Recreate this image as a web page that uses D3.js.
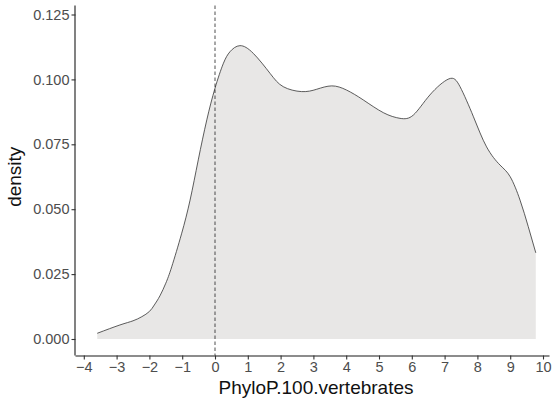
<!DOCTYPE html>
<html>
<head>
<meta charset="utf-8">
<script src="https://cdn.jsdelivr.net/npm/d3@7"></script>
<style>
body { margin: 0; background: #fff; }
text { font-family: "Liberation Sans", Arial, sans-serif; }
</style>
</head>
<body>
<script>
// density curve
var xVals = [-3.59, -2.9, -2.5, -2.23, -2.0, -1.85, -1.68, -1.5, -1.32, -1.02, -0.76, -0.51, -0.25, 0, 0.25, 0.46,
    0.76, 1.17, 1.68, 2.08, 2.64, 3.10, 3.56, 4.01, 4.52, 5.13, 5.64, 6.05, 6.55, 7.13, 7.47, 7.88,
    8.28, 8.69, 9.0, 9.30, 9.55, 9.78];
var densVals = [0.0022, 0.0054, 0.0070, 0.0086, 0.0106, 0.0131, 0.0166, 0.0215, 0.0278, 0.0405, 0.0535, 0.069,
    0.0844, 0.0966, 0.106, 0.1107, 0.113, 0.110, 0.1023, 0.0972, 0.0953, 0.0962, 0.0975, 0.0959,
    0.0921, 0.0872, 0.085, 0.0863, 0.094, 0.1002, 0.0972, 0.0856, 0.074, 0.067, 0.0625, 0.0535,
    0.0433, 0.0332];
var xTicks = [-4, -3, -2, -1, 0, 1, 2, 3, 4, 5, 6, 7, 8, 9, 10];
var yTicks = [0, 0.025, 0.05, 0.075, 0.1, 0.125];
var vlineAt = 0;

var margin = {top: 5.5, right: 5.5, bottom: 43.5, left: 75.5},
    width = 555 - margin.left - margin.right,
    height = 399 - margin.top - margin.bottom;

var x = d3.scaleLinear().domain([-4.253, 10.198]).range([0, width]);
var y = d3.scaleLinear().domain([-0.006356, 0.128467]).range([height, 0]);

var data = xVals.map(function(v, i) { return {x: v, d: densVals[i]}; });

var svg = d3.select("body").append("svg")
    .attr("width", 555)
    .attr("height", 399)
    .append("g")
    .attr("transform", "translate(" + margin.left + "," + margin.top + ")");

// filled density
var area = d3.area()
    .x(function(d) { return x(d.x); })
    .y0(y(0))
    .y1(function(d) { return y(d.d); })
    .curve(d3.curveNatural);

svg.append("path")
    .datum(data)
    .attr("d", area)
    .style("fill", "#e8e7e6");

var line = d3.line()
    .x(function(d) { return x(d.x); })
    .y(function(d) { return y(d.d); })
    .curve(d3.curveNatural);

svg.append("path")
    .datum(data)
    .attr("d", line)
    .style("fill", "none")
    .style("stroke", "#333")
    .style("stroke-width", 0.8);

// dashed line at zero
svg.append("line")
    .attr("x1", x(vlineAt)).attr("x2", x(vlineAt))
    .attr("y1", 0).attr("y2", height)
    .style("stroke", "#222")
    .style("stroke-width", 0.8)
    .style("stroke-dasharray", "3.5,2.5");

// axes
var xAxis = d3.axisBottom(x).tickValues(xTicks).tickSize(4).tickPadding(2).tickFormat(d3.format("d"));
var yAxis = d3.axisLeft(y).tickValues(yTicks).tickSize(4).tickPadding(2).tickFormat(d3.format(".3f"));

var gx = svg.append("g")
    .attr("transform", "translate(0," + height + ")")
    .call(xAxis);
var gy = svg.append("g").call(yAxis);

[gx, gy].forEach(function(g) {
    g.select(".domain").style("stroke", "#1a1a1a").style("stroke-width", 1.1);
    g.selectAll(".tick line").style("stroke", "#333").style("stroke-width", 1.1);
    g.selectAll(".tick text")
        .style("font-size", "14.5px")
        .style("fill", "#4d4d4d");
});
gx.select(".domain").attr("d", "M0,0.5H" + width);
gy.select(".domain").attr("d", "M-0.5," + height + "V0");

// axis titles
svg.append("text")
    .attr("x", (215 + 417) / 2 - margin.left)
    .attr("y", height + 38)
    .style("text-anchor", "middle")
    .style("font-size", "19px")
    .style("fill", "#111")
    .text("PhyloP.100.vertebrates");

svg.append("text")
    .attr("transform", "translate(" + (21 - margin.left) + "," + (y(0.0625)) + ") rotate(-90)")
    .style("text-anchor", "middle")
    .style("font-size", "19px")
    .style("fill", "#111")
    .text("density");
</script>
</body>
</html>
